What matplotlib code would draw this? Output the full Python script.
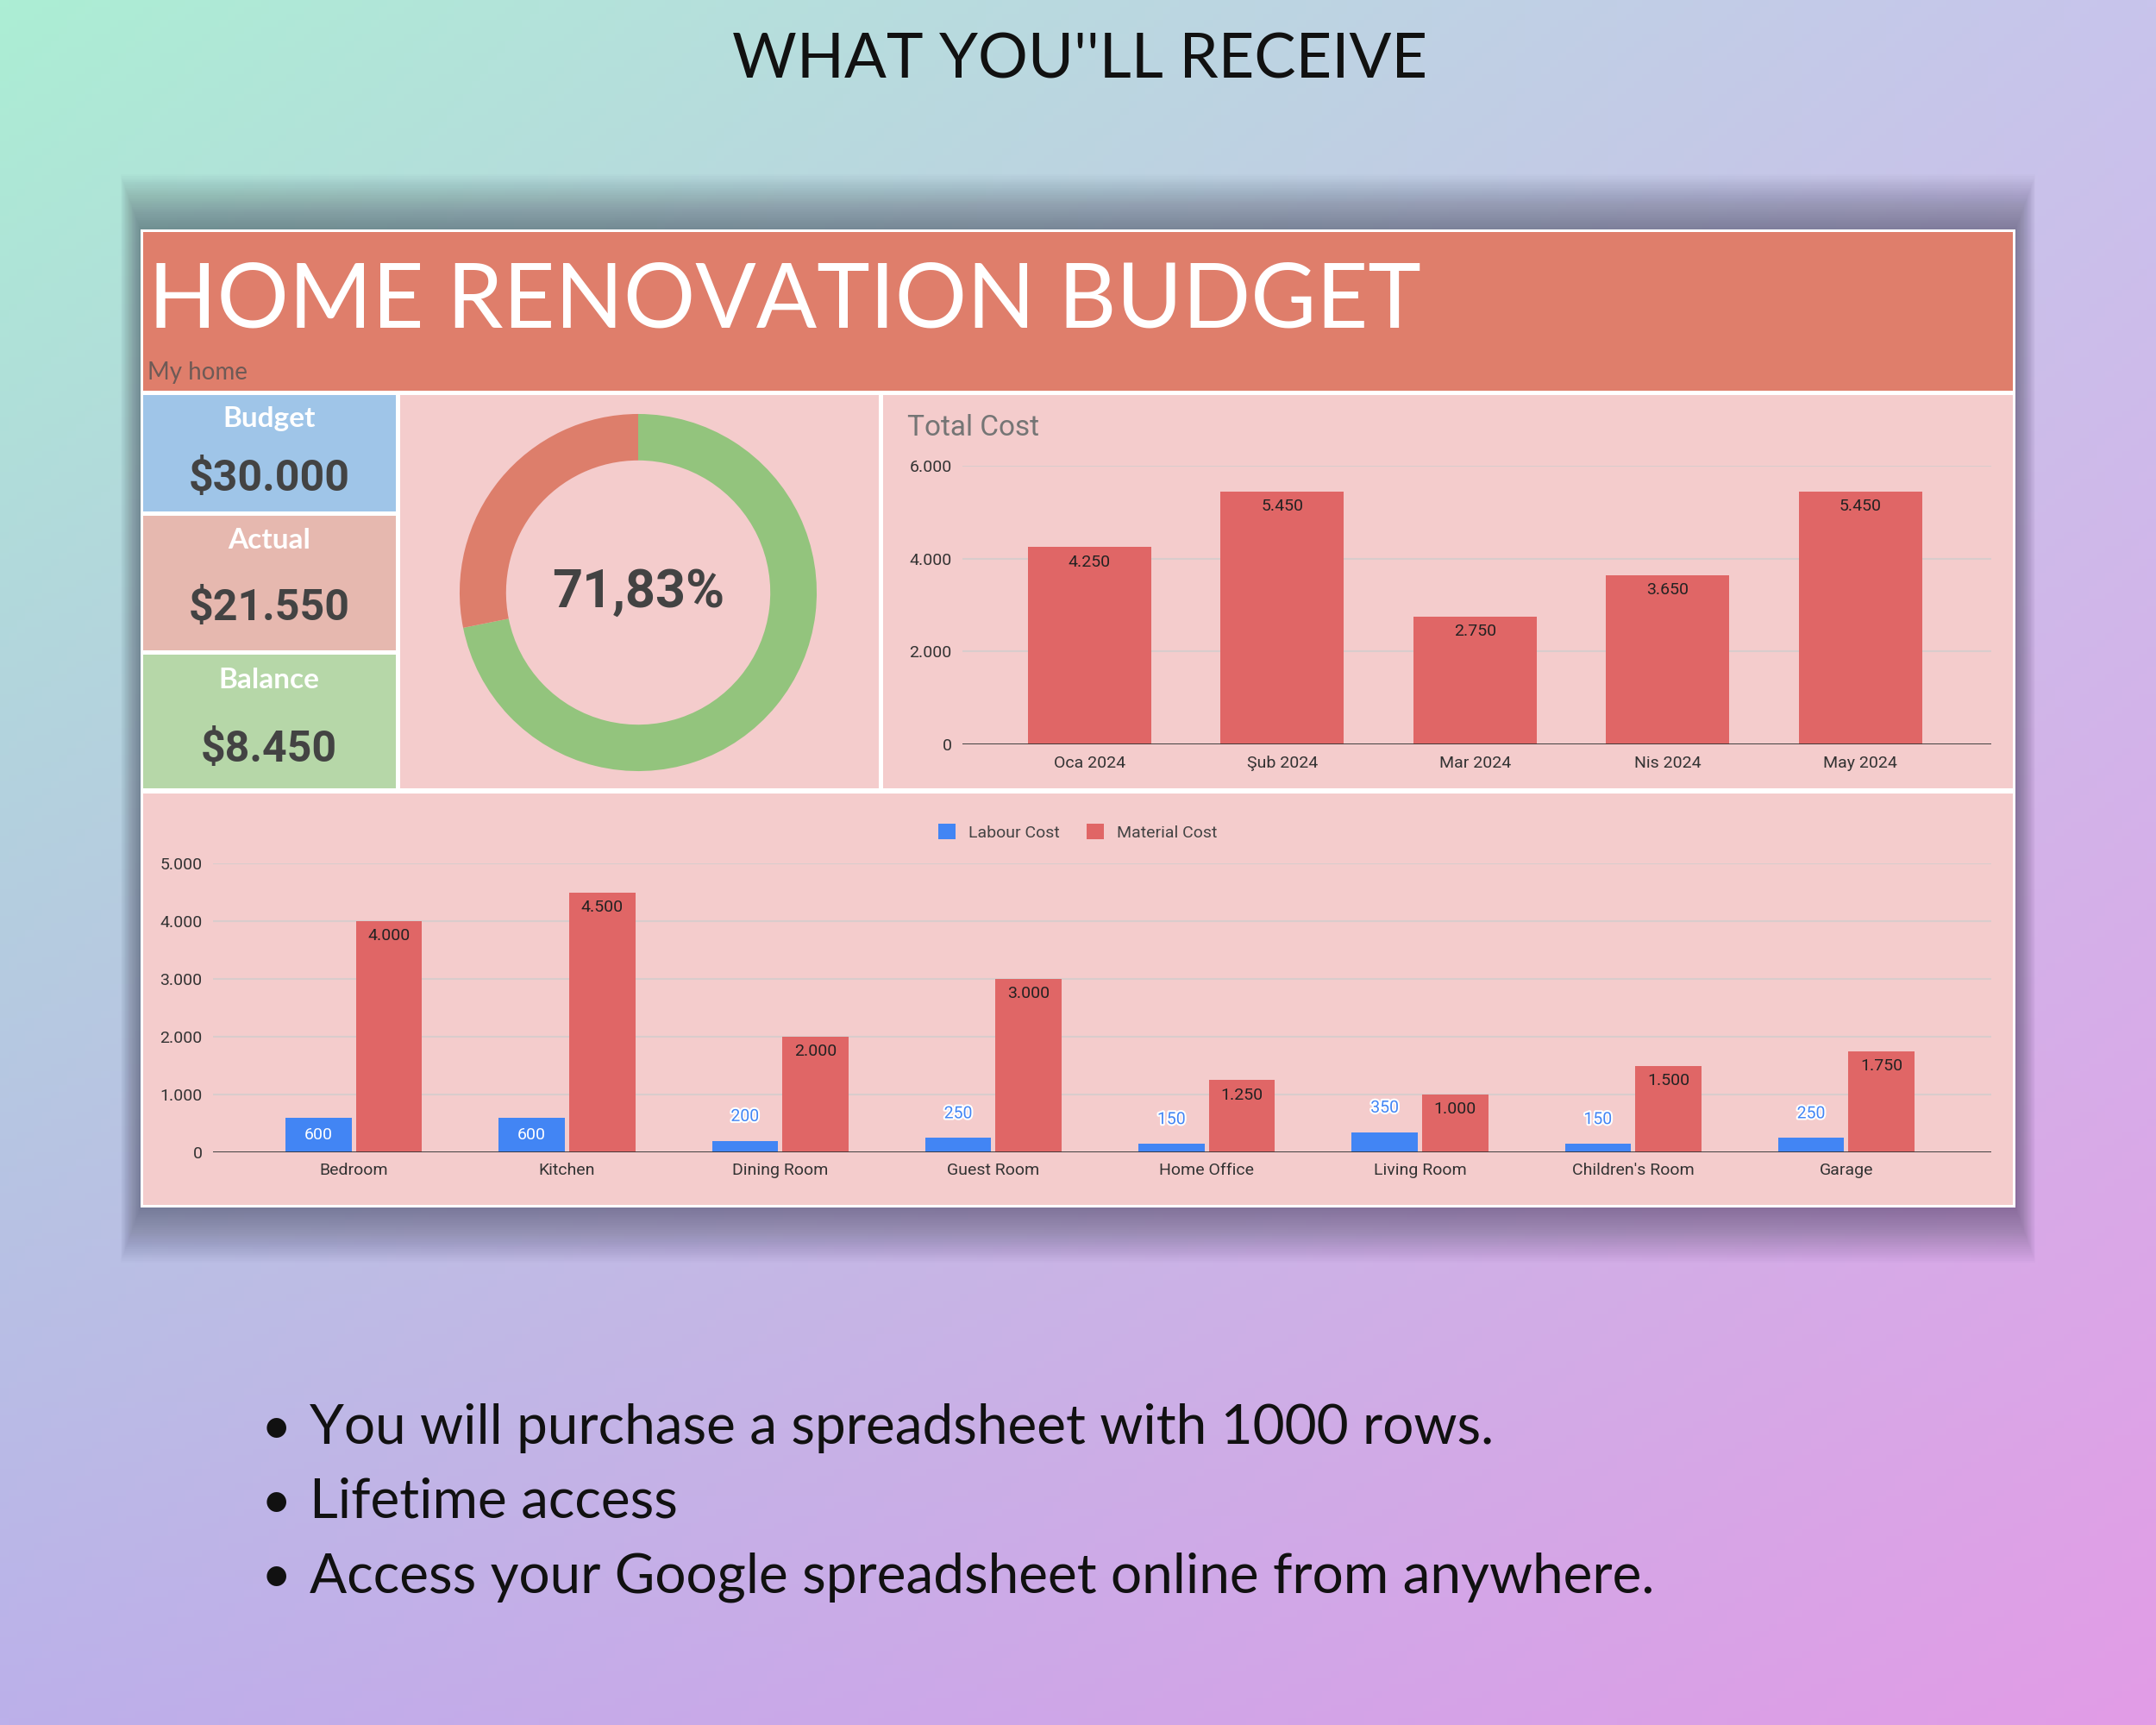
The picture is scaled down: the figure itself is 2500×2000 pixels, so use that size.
import matplotlib
matplotlib.use('Agg')
import matplotlib.pyplot as plt
import matplotlib.patheffects as pe
import numpy as np
from matplotlib.patches import Rectangle

W, H = 2500, 2000

# chart data
kpi_labels = ['Budget', 'Actual', 'Balance']
kpi_values = [30000, 21550, 8450]
kpi_colors = ['#9fc5e8', '#e6b8af', '#b6d7a8']

months = ['Oca 2024', 'Şub 2024', 'Mar 2024', 'Nis 2024', 'May 2024']
month_cost = [4250, 5450, 2750, 3650, 5450]

rooms = ['Bedroom', 'Kitchen', 'Dining Room', 'Guest Room', 'Home Office',
         'Living Room', "Children's Room", 'Garage']
labour = [600, 600, 200, 250, 150, 350, 150, 250]
material = [4000, 4500, 2000, 3000, 1250, 1000, 1500, 1750]

bullets = ['You will purchase a spreadsheet with 1000 rows.',
           'Lifetime access',
           'Access your Google spreadsheet online from anywhere.']

RED = '#e06666'
BLUE = '#4285f4'
PANEL = '#f4cccc'
GRID = '#d9cccc'


def dots(v):
    return f'{v:,.0f}'.replace(',', '.')


def px_axes(x0, y0, x1, y1):
    return fig.add_axes([x0 / W, 1 - y1 / H, (x1 - x0) / W, (y1 - y0) / H])


fig = plt.figure(figsize=(25, 20), dpi=100)

# background gradient + layout canvas in pixel coords
bg = fig.add_axes([0, 0, 1, 1])
gx = np.linspace(0, 1, 256)[None, :, None]
gy = np.linspace(0, 1, 256)[:, None, None]
tl = np.array([172, 238, 212]) / 255
tr = np.array([200, 196, 236]) / 255
bl = np.array([188, 176, 234]) / 255
br = np.array([226, 156, 230]) / 255
img = (1 - gy) * ((1 - gx) * tl + gx * tr) + gy * ((1 - gx) * bl + gx * br)
bg.imshow(img, extent=[0, W, H, 0], aspect='auto', zorder=0)
bg.set_xlim(0, W)
bg.set_ylim(H, 0)
bg.axis('off')

# soft drop shadow behind the dashboard
fx0, fy0, fx1, fy1 = 163, 266, 2337, 1400
for i in range(30):
    px, py = 0.8 * i, 2.2 * i
    bg.add_patch(Rectangle((fx0 - px, fy0 - py), fx1 - fx0 + 2 * px, fy1 - fy0 + 2 * py,
                           facecolor='#3a3a4e', alpha=0.018, lw=0, zorder=1))
bg.add_patch(Rectangle((fx0, fy0), fx1 - fx0, fy1 - fy0, facecolor='white', lw=0, zorder=2))

# panels
bg.add_patch(Rectangle((166, 269), 2168, 184, facecolor='#df7e6b', lw=0, zorder=3))
kpi_boxes = [(458, 593), (598, 754), (759, 914)]
for (y0, y1), c in zip(kpi_boxes, kpi_colors):
    bg.add_patch(Rectangle((166, y0), 293, y1 - y0, facecolor=c, lw=0, zorder=3))
bg.add_patch(Rectangle((464, 458), 555, 456, facecolor=PANEL, lw=0, zorder=3))
bg.add_patch(Rectangle((1024, 458), 1310, 456, facecolor=PANEL, lw=0, zorder=3))
bg.add_patch(Rectangle((166, 920), 2168, 477, facecolor=PANEL, lw=0, zorder=3))

# header texts
bg.text(1252, 70, "WHAT YOU''LL RECEIVE", ha='center', va='center', fontsize=52,
        family='Lato', color='#111111', zorder=5)
bg.text(172, 379, 'HOME RENOVATION BUDGET', ha='left', va='baseline', fontsize=75,
        family='Lato', color='white', zorder=5)
bg.text(171, 440, 'My home', ha='left', va='baseline', fontsize=20,
        family='Lato', color='#6e5a56', zorder=5)

# KPI cards
label_y = [486, 627, 788]
value_y = [555, 706, 869]
for lab, val, ly, vy in zip(kpi_labels, kpi_values, label_y, value_y):
    bg.text(312, ly, lab, ha='center', va='center', fontsize=24, family='Lato',
            fontweight='bold', color='white', zorder=5)
    bg.text(312, vy, '$' + dots(val), ha='center', va='center', fontsize=36,
            family='Roboto', fontweight='bold', color='#434343', zorder=5)

# donut
axd = px_axes(510, 457, 970, 917)
axd.pie([kpi_values[1], kpi_values[2]], colors=['#93c47d', '#dd7e6b'], startangle=90,
        counterclock=False, radius=1, wedgeprops=dict(width=0.26, linewidth=0))
axd.set_xlim(-1.111, 1.111)
axd.set_ylim(-1.111, 1.111)
axd.set_aspect('equal')
axd.axis('off')
pct = kpi_values[1] / kpi_values[0] * 100
axd.text(0, 0, f'{pct:.2f}%'.replace('.', ','), ha='center', va='center', fontsize=44,
         family='Roboto', fontweight='bold', color='#434343')

# total cost by month
ax1 = px_axes(1116, 540, 2309, 863)
ax1.set_facecolor('none')
x1 = np.arange(len(months))
bars1 = ax1.bar(x1, month_cost, width=0.64, color=RED, zorder=3)
for b, v in zip(bars1, month_cost):
    ax1.annotate(dots(v), (b.get_x() + b.get_width() / 2, v), xytext=(0, -6),
                 textcoords='offset points', ha='center', va='top', fontsize=14,
                 family='Roboto', color='#222222', zorder=4)
ax1.set_xlim(-0.66, 4.68)
ax1.set_ylim(0, 6000)
ax1.set_yticks([0, 2000, 4000, 6000])
ax1.set_yticklabels([dots(v) for v in [0, 2000, 4000, 6000]])
ax1.set_xticks(x1)
ax1.set_xticklabels(months)
ax1.grid(axis='y', color=GRID, lw=1.5, zorder=0)
ax1.axhline(0, color='#333333', lw=2, zorder=4)
for s in ax1.spines.values():
    s.set_visible(False)
ax1.tick_params(length=0, labelsize=14, colors='#333333', pad=9)
for t in ax1.get_xticklabels() + ax1.get_yticklabels():
    t.set_family('Roboto')
fig.text(1052 / W, 1 - 496 / H, 'Total Cost', ha='left', va='center', fontsize=24,
         family='Roboto', color='#757575')

# labour vs material by room
ax2 = px_axes(247, 1001, 2309, 1336)
ax2.set_facecolor('none')
x2 = np.arange(len(rooms))
bl_bars = ax2.bar(x2 - 0.165, labour, width=0.31, color=BLUE, label='Labour Cost', zorder=3)
mt_bars = ax2.bar(x2 + 0.165, material, width=0.31, color=RED, label='Material Cost', zorder=3)
for b, v in zip(bl_bars, labour):
    cx = b.get_x() + b.get_width() / 2
    if v >= 400:
        ax2.annotate(str(v), (cx, v / 2), ha='center', va='center', fontsize=14,
                     family='Roboto', color='white', zorder=4)
    else:
        ax2.annotate(str(v), (cx, v), xytext=(0, 20), textcoords='offset points',
                     ha='center', va='center', fontsize=14, family='Roboto', color=BLUE,
                     path_effects=[pe.withStroke(linewidth=3, foreground='white')], zorder=4)
for b, v in zip(mt_bars, material):
    ax2.annotate(dots(v), (b.get_x() + b.get_width() / 2, v), xytext=(0, -6),
                 textcoords='offset points', ha='center', va='top', fontsize=14,
                 family='Roboto', color='#222222', zorder=4)
ax2.set_xlim(-0.66, 7.68)
ax2.set_ylim(0, 5000)
ax2.set_yticks(range(0, 5001, 1000))
ax2.set_yticklabels([dots(v) for v in range(0, 5001, 1000)])
ax2.set_xticks(x2)
ax2.set_xticklabels(rooms)
ax2.grid(axis='y', color=GRID, lw=1.5, zorder=0)
ax2.axhline(0, color='#333333', lw=2, zorder=4)
for s in ax2.spines.values():
    s.set_visible(False)
ax2.tick_params(length=0, labelsize=14, colors='#333333', pad=9)
for t in ax2.get_xticklabels() + ax2.get_yticklabels():
    t.set_family('Roboto')
leg = ax2.legend(loc='center', bbox_to_anchor=(1250 / W, 1 - 965 / H),
                 bbox_transform=fig.transFigure, ncol=2, frameon=False,
                 handlelength=1, handleheight=1, columnspacing=1.6,
                 prop={'family': 'Roboto', 'size': 14})
for t in leg.get_texts():
    t.set_color('#444444')

# bullet list
base_y = [1674, 1760, 1846]
for s, y in zip(bullets, base_y):
    bg.text(320, y, '•', ha='center', va='baseline', fontsize=44, family='Lato',
            color='#111111', zorder=5)
    bg.text(359, y, s, ha='left', va='baseline', fontsize=46, family='Lato',
            color='#111111', zorder=5)

fig.savefig('out.png', dpi=100)
